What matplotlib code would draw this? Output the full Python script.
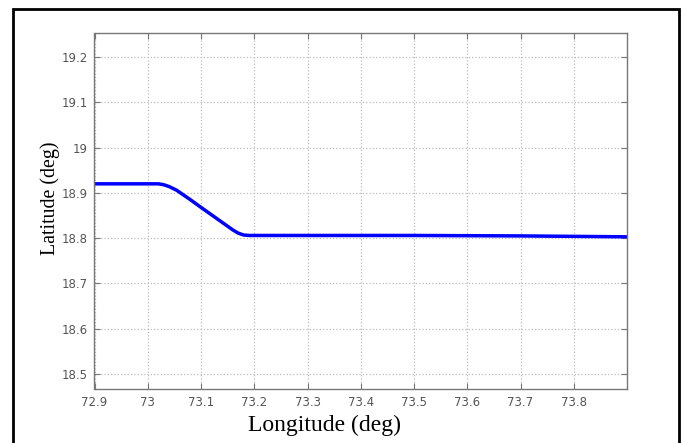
import numpy as np
import matplotlib
matplotlib.use('Agg')
import matplotlib.pyplot as plt
from matplotlib.patches import Rectangle

# Track
lon = [72.90, 73.00, 73.02, 73.03, 73.04, 73.054, 73.08, 73.10, 73.13, 73.16, 73.17, 73.18, 73.19,
       73.30, 73.50, 73.70, 73.90]
lat = [18.920, 18.920, 18.920, 18.918, 18.914, 18.906, 18.885, 18.868, 18.843, 18.818, 18.811, 18.807, 18.806,
       18.806, 18.806, 18.805, 18.803]

xticks = [72.9, 73.0, 73.1, 73.2, 73.3, 73.4, 73.5, 73.6, 73.7, 73.8]
xticklabels = ['72.9', '73', '73.1', '73.2', '73.3', '73.4', '73.5', '73.6', '73.7', '73.8']
yticks = [18.5, 18.6, 18.7, 18.8, 18.9, 19.0, 19.1, 19.2]
yticklabels = ['18.5', '18.6', '18.7', '18.8', '18.9', '19', '19.1', '19.2']

fig = plt.figure(figsize=(6.86, 4.43), dpi=100)
W, H = 686, 443

# outer frame around the whole picture
fig.patches.append(Rectangle((13 / W, -0.05), (679 - 13) / W, 1 - 9 / H + 0.05,
                             transform=fig.transFigure, fill=False,
                             edgecolor='black', linewidth=2))

ax = fig.add_axes([94.5 / W, 1 - 389 / H, (627 - 94.5) / W, (389 - 33) / H])
ax.plot(lon, lat, color='#0000ff', linewidth=2.5, solid_joinstyle='round')

ax.set_xlim(72.9, 73.9)
ax.set_ylim(18.467, 19.253)
ax.set_xticks(xticks)
ax.set_xticklabels(xticklabels)
ax.set_yticks(yticks)
ax.set_yticklabels(yticklabels)
ax.tick_params(direction='in', length=4, top=True, right=True, labelsize=8.5,
               labelcolor='#555555', color='#777777', pad=5)
ax.grid(True, linestyle=':', color='#bbbbbb', linewidth=0.9)
for s in ax.spines.values():
    s.set_color('#777777')
    s.set_linewidth(1.0)

fig.text(50 / W, 1 - 198 / H, 'Latitude (deg)', rotation=90, ha='center', va='center',
         fontsize=14.3, family='Liberation Serif')
fig.text(325 / W, 1 - 425 / H, 'Longitude (deg)', ha='center', va='center',
         fontsize=17, family='Liberation Serif')

fig.savefig('out.png', dpi=100)
